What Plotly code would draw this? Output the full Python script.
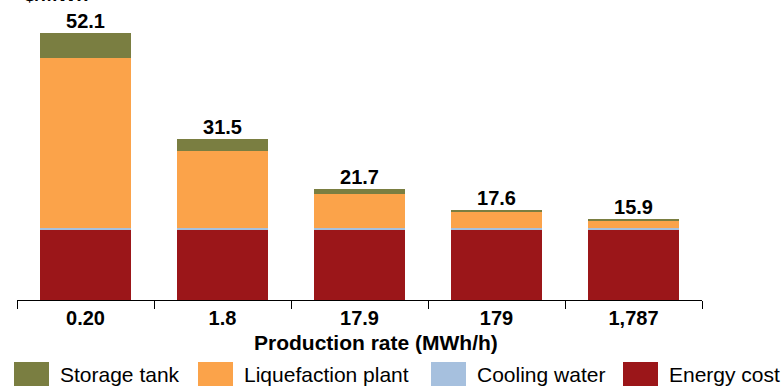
import plotly.graph_objects as go

# production rate categories (MWh/h)
rates = ["0.20", "1.8", "17.9", "179", "1,787"]

# cost components, $/MWh (bottom to top)
energy_cost = [13.6, 13.6, 13.6, 13.6, 13.6]
cooling_water = [0.4, 0.4, 0.4, 0.4, 0.4]
liquefaction_plant = [33.3, 15.1, 6.8, 3.2, 1.6]
storage_tank = [4.8, 2.4, 0.9, 0.4, 0.3]
totals = [52.1, 31.5, 21.7, 17.6, 15.9]

series = [
    ("Energy cost", energy_cost, "#9b1619"),
    ("Cooling water", cooling_water, "#a6c0de"),
    ("Liquefaction plant", liquefaction_plant, "#fba34a"),
    ("Storage tank", storage_tank, "#7a7e41"),
]

FONT = "Liberation Sans, Arial, sans-serif"
W, H = 784, 386
L, R, T, B = 17, 82, 20, 86
plot_h = H - T - B
ymax = 54.7

fig = go.Figure()
for name, vals, color in series:
    fig.add_trace(go.Bar(
        x=rates, y=vals, name=name,
        marker=dict(color=color, line=dict(width=0)),
        showlegend=False,
    ))

# value labels on top of each bar
fig.add_trace(go.Scatter(
    x=rates, y=totals, mode="text", text=[f"{t:.1f}" for t in totals],
    textposition="top center", showlegend=False, hoverinfo="skip", cliponaxis=False,
    textfont=dict(family=FONT, size=20, color="black", weight="bold"),
))

def px_x(px):
    return (px - L) / (W - L - R)

def px_y(py):
    return (H - B - py) / plot_h

# manual legend with large swatches, order as in the reference
legend_x_px = [14, 198, 431, 623]
for (name, vals, color), x0 in zip(series[::-1], legend_x_px):
    fig.add_shape(
        type="rect", xref="paper", yref="paper",
        x0=px_x(x0), x1=px_x(x0 + 35), y0=px_y(386), y1=px_y(362),
        fillcolor=color, line=dict(width=0),
    )
    fig.add_annotation(
        xref="paper", yref="paper", x=px_x(x0 + 44), y=px_y(374),
        xanchor="left", yanchor="middle", text=name, showarrow=False,
        font=dict(family=FONT, size=21, color="black"),
    )

# x axis title
fig.add_annotation(
    xref="paper", yref="paper", x=px_x(376), y=px_y(342),
    xanchor="center", yanchor="middle", text="Production rate (MWh/h)", showarrow=False,
    font=dict(family=FONT, size=21, color="black", weight="bold"),
)

# y unit label, mostly cut off at top edge
fig.add_annotation(
    xref="paper", yref="paper", x=px_x(56), y=px_y(-6),
    xanchor="center", yanchor="middle", text="$/MWh", showarrow=False,
    font=dict(family=FONT, size=20, color="black", weight="bold"),
)

fig.update_layout(
    width=W, height=H,
    margin=dict(l=L, r=R, t=T, b=B),
    barmode="stack", bargap=0.336,
    plot_bgcolor="white", paper_bgcolor="white",
    font=dict(family=FONT, color="black"),
    showlegend=False,
)
fig.update_xaxes(
    type="category", range=[-0.5, 4.5], automargin=False,
    showline=True, linecolor="black", linewidth=1.3,
    ticks="outside", tickson="boundaries", ticklen=8, tickcolor="black", tickwidth=1.3,
    tickfont=dict(family=FONT, size=20, color="black", weight="bold"),
    tickangle=0, showgrid=False, zeroline=False,
)
fig.update_yaxes(range=[0, ymax], visible=False, showgrid=False, automargin=False)

# drop the default page margin so the figure sits at the window's corner
fig.write_html(
    "out.html",
    config={"displayModeBar": False},
    post_script="document.body.style.margin='0'; document.body.style.overflow='hidden';",
)
